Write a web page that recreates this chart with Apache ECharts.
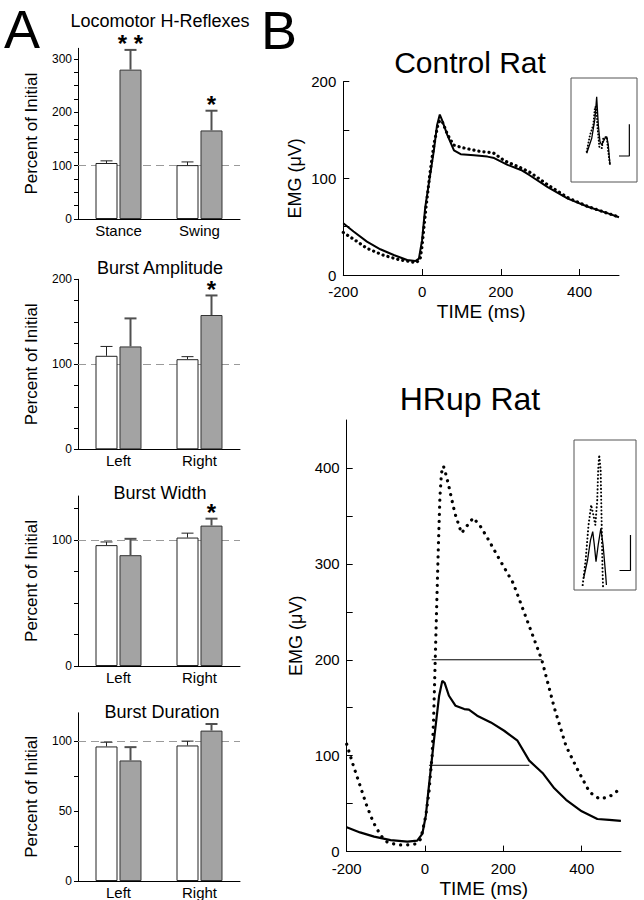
<!DOCTYPE html>
<html><head><meta charset="utf-8">
<script src="https://cdn.jsdelivr.net/npm/echarts@6/dist/echarts.min.js"></script>
<style>html,body{margin:0;padding:0;background:#fff}#c{width:644px;height:900px}</style>
</head><body><div id="c"></div>
<script>
// ---------- Panel A data ----------
const catsHR = ['Stance', 'Swing'];
const catsLR = ['Left', 'Right'];
const hrWhite = [105, 101], hrWhiteErr = [109, 107];
const hrGray = [280, 166], hrGrayErr = [317, 203];
const hrSig = ['* *', '*'];
const ampWhite = [110, 106], ampWhiteErr = [121, 109];
const ampGray = [121, 158], ampGrayErr = [154, 181];
const ampSig = ['', '*'];
const widWhite = [96, 102], widWhiteErr = [98.5, 105.5];
const widGray = [88, 111.5], widGrayErr = [101, 117];
const widSig = ['', '*'];
const durWhite = [96, 96.7], durWhiteErr = [99, 99.8];
const durGray = [86, 107.3], durGrayErr = [95.5, 112];
const durSig = ['', ''];
const labelsA1 = [0, 100, 200, 300];
const labelsA2 = [0, 100, 200];
const labelsA3 = [0, 100];
const labelsA4 = [0, 50, 100];

// ---------- Panel B data ----------
const ctrlSolidT = [-200,-174,-140,-106,-72,-38,-17,-8,0,8,21,30,38,45,51,64,81,98,132,166,183,217,251,272,319,370,421,472,500];
const ctrlSolidV = [53.5,45,34.5,26.6,20.7,15.5,14.5,17,36,70,105,129,155,166,160,145,129,125,124,122.5,121,114,108.7,103.5,91,79,70.6,63.8,59.7];
const ctrlDotT = [-200,-170,-140,-100,-60,-30,-15,-5,0,10,20,30,40,45,52,65,80,100,150,180,210,250,275,320,370,420,470,500];
const ctrlDotV = [44,36,27.6,20.7,16,13.8,12.8,16,30,70,105,135,155,160,158,145,134.5,132,127.6,126.6,118,111,106,93,80,71,64,60];
const hrSolidT = [-200,-166,-130,-88,-45,-20,-7,2,10,23,36,44,50,61,78,100,112,133,168,202,236,266,300,330,360,400,440,470,500];
const hrSolidV = [25.3,20,15.6,12,10.4,11.5,18.4,37.5,68.8,117,162.5,178,176,162.5,152,148.6,148,141.7,134.7,126,115.6,94.8,82,66,54,42,34,33,32];
const hrDotT = [-200,-183,-166,-149,-132,-113,-96,-70,-45,-24,-11,2,10,18,22,26,30,34,38,42,47,52,59,76,93,106,123,140,157,191,225,260,298,330,360,390,420,445,470,500];
const hrDotV = [112,89.6,68.8,48,30.5,16.7,9.7,7,7,8,13,37.5,62,100,140,200,260,318,370,395,402,395,384,353,332,339,348,340,328.7,304,280,241.7,200,150,110,85,62,55,57,66];
const halfHighT = [17, 298], halfHighV = [200, 200];
const halfLowT = [10, 266], halfLowV = [90, 90];
const ctrlXLabels = [-200, 0, 200, 400];
const ctrlYLabels = [0, 100, 200];
const hrYLabels = [0, 100, 200, 300, 400];

// insets (relative units 0-100 within the inset box)
const inCtrlSolidX = [23.8,31.4,36.4,38.9,41.4,43.9,46.5,51.5,54.1,56.5,59.1];
const inCtrlSolidY = [27.6,42,61.3,82,54.8,38.8,35.6,42,43.6,35.6,16.3];
const inCtrlDotX = [23.8,28.8,33.8,36.4,38.9,39.9,42.9,46.5,48.9,54.1,56.5,59.1];
const inCtrlDotY = [29.1,45.2,54.8,72.4,70.9,54.8,33.9,32.4,42,43.6,29.1,16.3];
const inCtrlBarX = [72.7, 88.4, 88.4], inCtrlBarY = [25, 25, 55.5];
const inHrSolidX = [15.6,21.9,26.6,30.2,32.8,35.5,39,43.3,46.9,51.1,52.3];
const inHrSolidY = [8,20,33.3,38.9,30,18.9,30,41.1,30,10,3.3];
const inHrDotX = [14,18.8,23.4,27.7,31.3,34.4,37.5,39,40.6,43,44.5,46,46.9];
const inHrDotY = [3.3,20,43.3,56.7,50,43.3,60,80,90,80,46.7,13.3,1.3];
const inHrBarX = [73.4, 91.1, 91.1], inHrBarY = [13, 13, 36.7];

const FONT = '"Liberation Sans", Arial, sans-serif';
const zip = (a, b) => a.map((v, i) => [v, b[i]]);
const range = (a, b, s) => { const r = []; for (let v = a; v <= b + 1e-9; v += s) r.push(v); return r; };

const chart = echarts.init(document.getElementById('c'), null, {renderer: 'svg', width: 644, height: 900});

const grids = [
  {left: 78, top: 48.3, width: 162, height: 170.7},
  {left: 78, top: 279.3, width: 162, height: 170},
  {left: 78, top: 496, width: 162, height: 170},
  {left: 78, top: 712.8, width: 162, height: 169.2},
  {left: 343.3, top: 81.7, width: 275.7, height: 193.3},
  {left: 346.7, top: 420, width: 274.2, height: 431.6},
  {left: 571, top: 78, width: 66, height: 104, show: true, borderColor: '#555', borderWidth: 1, backgroundColor: '#fff', z: 3},
  {left: 574, top: 440, width: 62, height: 150, show: true, borderColor: '#555', borderWidth: 1, backgroundColor: '#fff', z: 3}
];

function catX(gi, cats) {
  return {type: 'category', gridIndex: gi, data: cats, boundaryGap: true,
    axisLine: {show: true, lineStyle: {color: '#000', width: 1}}, axisTick: {show: false},
    axisLabel: {fontSize: 15, color: '#000', fontFamily: FONT, margin: 4}};
}
function valY(gi, max, labels) {
  return {type: 'value', gridIndex: gi, min: 0, max: max, interval: 25,
    splitLine: {show: false},
    axisLine: {show: true, lineStyle: {color: '#000', width: 1}},
    axisTick: {show: true, customValues: range(0, max, 25), length: 4, lineStyle: {color: '#000'}},
    axisLabel: {customValues: labels, fontSize: 12, color: '#000', fontFamily: FONT, margin: 6},
    name: 'Percent of Initial', nameLocation: 'middle', nameGap: 38,
    nameTextStyle: {fontSize: 17, fontFamily: FONT, color: '#000'}};
}
function barPair(gi, white, gray) {
  return [
    {type: 'bar', xAxisIndex: gi, yAxisIndex: gi, data: white, barWidth: 22, barGap: '9%', z: 2,
      itemStyle: {color: '#fff', borderColor: '#222', borderWidth: 1}, silent: true,
      markLine: {silent: true, symbol: 'none', z: 1, label: {show: false},
        lineStyle: {color: '#9a9a9a', type: [8, 5], width: 1}, data: [{yAxis: 100}]}},
    {type: 'bar', xAxisIndex: gi, yAxisIndex: gi, data: gray, barWidth: 22, barGap: '9%', z: 2,
      itemStyle: {color: '#a3a3a3', borderColor: '#333', borderWidth: 1}, silent: true}
  ];
}
function errBars(gi, vals, errs, sig, dx, color, lw) {
  return {type: 'custom', xAxisIndex: gi, yAxisIndex: gi, z: 4, silent: true,
    data: vals.map((v, i) => [i, v, errs[i]]),
    renderItem: function (params, api) {
      const i = api.value(0);
      const b = api.coord([i, api.value(1)]);
      const t = api.coord([i, api.value(2)]);
      const x = b[0] + dx;
      const ch = [
        {type: 'line', shape: {x1: x, y1: b[1], x2: x, y2: t[1]}, style: {stroke: color, lineWidth: lw}},
        {type: 'line', shape: {x1: x - 6, y1: t[1], x2: x + 6, y2: t[1]}, style: {stroke: color, lineWidth: lw}}
      ];
      const s = sig ? sig[params.dataIndex] : '';
      if (s) ch.push({type: 'text', x: x, y: t[1] - 6,
        style: {text: s, fill: '#000', font: 'bold 24px ' + FONT, textAlign: 'center', textVerticalAlign: 'middle'}});
      return {type: 'group', children: ch};
    }};
}
function lineS(gi, xs, ys, dotted, w, gap) {
  return {type: 'line', xAxisIndex: gi, yAxisIndex: gi, data: zip(xs, ys), showSymbol: false, symbol: 'none',
    silent: true, z: 3, smooth: false,
    lineStyle: dotted ? {color: '#000', width: w, type: [0.1, gap], cap: 'round'} : {color: '#000', width: w}};
}
function bX(gi, name, gap) {
  return {type: 'value', gridIndex: gi, min: -200, max: 500, interval: 200,
    splitLine: {show: false},
    axisLine: {show: true, onZero: false, lineStyle: {color: '#000', width: 1}},
    axisTick: {show: true, inside: true, length: 6, customValues: ctrlXLabels, lineStyle: {color: '#000'}},
    axisLabel: {customValues: ctrlXLabels, fontSize: 15, color: '#000', fontFamily: FONT, margin: 9},
    name: name, nameLocation: 'middle', nameGap: gap,
    nameTextStyle: {fontSize: 19, fontFamily: FONT, color: '#000'}};
}
function bY(gi, max, labels, gap) {
  return {type: 'value', gridIndex: gi, min: 0, max: max, interval: 50,
    splitLine: {show: false},
    axisLine: {show: true, onZero: false, lineStyle: {color: '#000', width: 1}},
    axisTick: {show: true, inside: true, length: 6, customValues: range(0, labels[labels.length - 1], 50), lineStyle: {color: '#000'}},
    axisLabel: {customValues: labels, fontSize: 15, color: '#000', fontFamily: FONT, margin: 7},
    name: 'EMG (\u03bcV)', nameLocation: 'middle', nameGap: gap,
    nameTextStyle: {fontSize: 18, fontFamily: FONT, color: '#000'}};
}
const hidden = gi => ({type: 'value', gridIndex: gi, min: 0, max: 100, show: false});

const xAxis = [catX(0, catsHR), catX(1, catsLR), catX(2, catsLR), catX(3, catsLR),
  bX(4, 'TIME (ms)', 27), bX(5, 'TIME (ms)', 27), hidden(6), hidden(7)];
const yAxis = [valY(0, 320, labelsA1), valY(1, 200, labelsA2), valY(2, 135, labelsA3), valY(3, 120, labelsA4),
  bY(4, 200, ctrlYLabels, 39), bY(5, 450, hrYLabels, 42), hidden(6), hidden(7)];

const series = [];
[[hrWhite, hrWhiteErr, hrGray, hrGrayErr, hrSig],
 [ampWhite, ampWhiteErr, ampGray, ampGrayErr, ampSig],
 [widWhite, widWhiteErr, widGray, widGrayErr, widSig],
 [durWhite, durWhiteErr, durGray, durGrayErr, durSig]].forEach((d, gi) => {
  series.push(...barPair(gi, d[0], d[2]));
  series.push(errBars(gi, d[0], d[1], null, -12, '#222', 1));
  series.push(errBars(gi, d[2], d[3], d[4], 12, '#505050', 2));
});
series.push(lineS(4, ctrlSolidT, ctrlSolidV, false, 2));
series.push(lineS(4, ctrlDotT, ctrlDotV, true, 3.2, 5));
series.push(lineS(5, hrSolidT, hrSolidV, false, 2.2));
series.push(lineS(5, hrDotT, hrDotV, true, 3.2, 7));
series.push(lineS(5, halfHighT, halfHighV, false, 1));
series.push(lineS(5, halfLowT, halfLowV, false, 1));
series.push(lineS(6, inCtrlSolidX, inCtrlSolidY, false, 1.3));
series.push(lineS(6, inCtrlDotX, inCtrlDotY, true, 2, 3));
series.push(lineS(6, inCtrlBarX, inCtrlBarY, false, 1.2));
series.push(lineS(7, inHrSolidX, inHrSolidY, false, 1.3));
series.push(lineS(7, inHrDotX, inHrDotY, true, 2, 3.5));
series.push(lineS(7, inHrBarX, inHrBarY, false, 1.2));

const txt = (t, x, y, size, va) => ({type: 'text', x: x, y: y, silent: true,
  style: {text: t, fill: '#000', font: size + 'px ' + FONT, textAlign: 'center', textVerticalAlign: va || 'middle'}});

chart.setOption({
  animation: false,
  backgroundColor: '#fff',
  grid: grids,
  xAxis: xAxis,
  yAxis: yAxis,
  series: series,
  graphic: [
    txt('A', 22, 29, 54),
    txt('B', 279, 30, 54),
    txt('Locomotor H-Reflexes', 160, 21, 18),
    txt('Burst Amplitude', 160, 268, 18),
    txt('Burst Width', 160, 493, 18),
    txt('Burst Duration', 162, 712, 18),
    txt('Control Rat', 470, 62, 30),
    txt('HRup Rat', 470, 399, 32)
  ]
});
</script>
</body></html>
